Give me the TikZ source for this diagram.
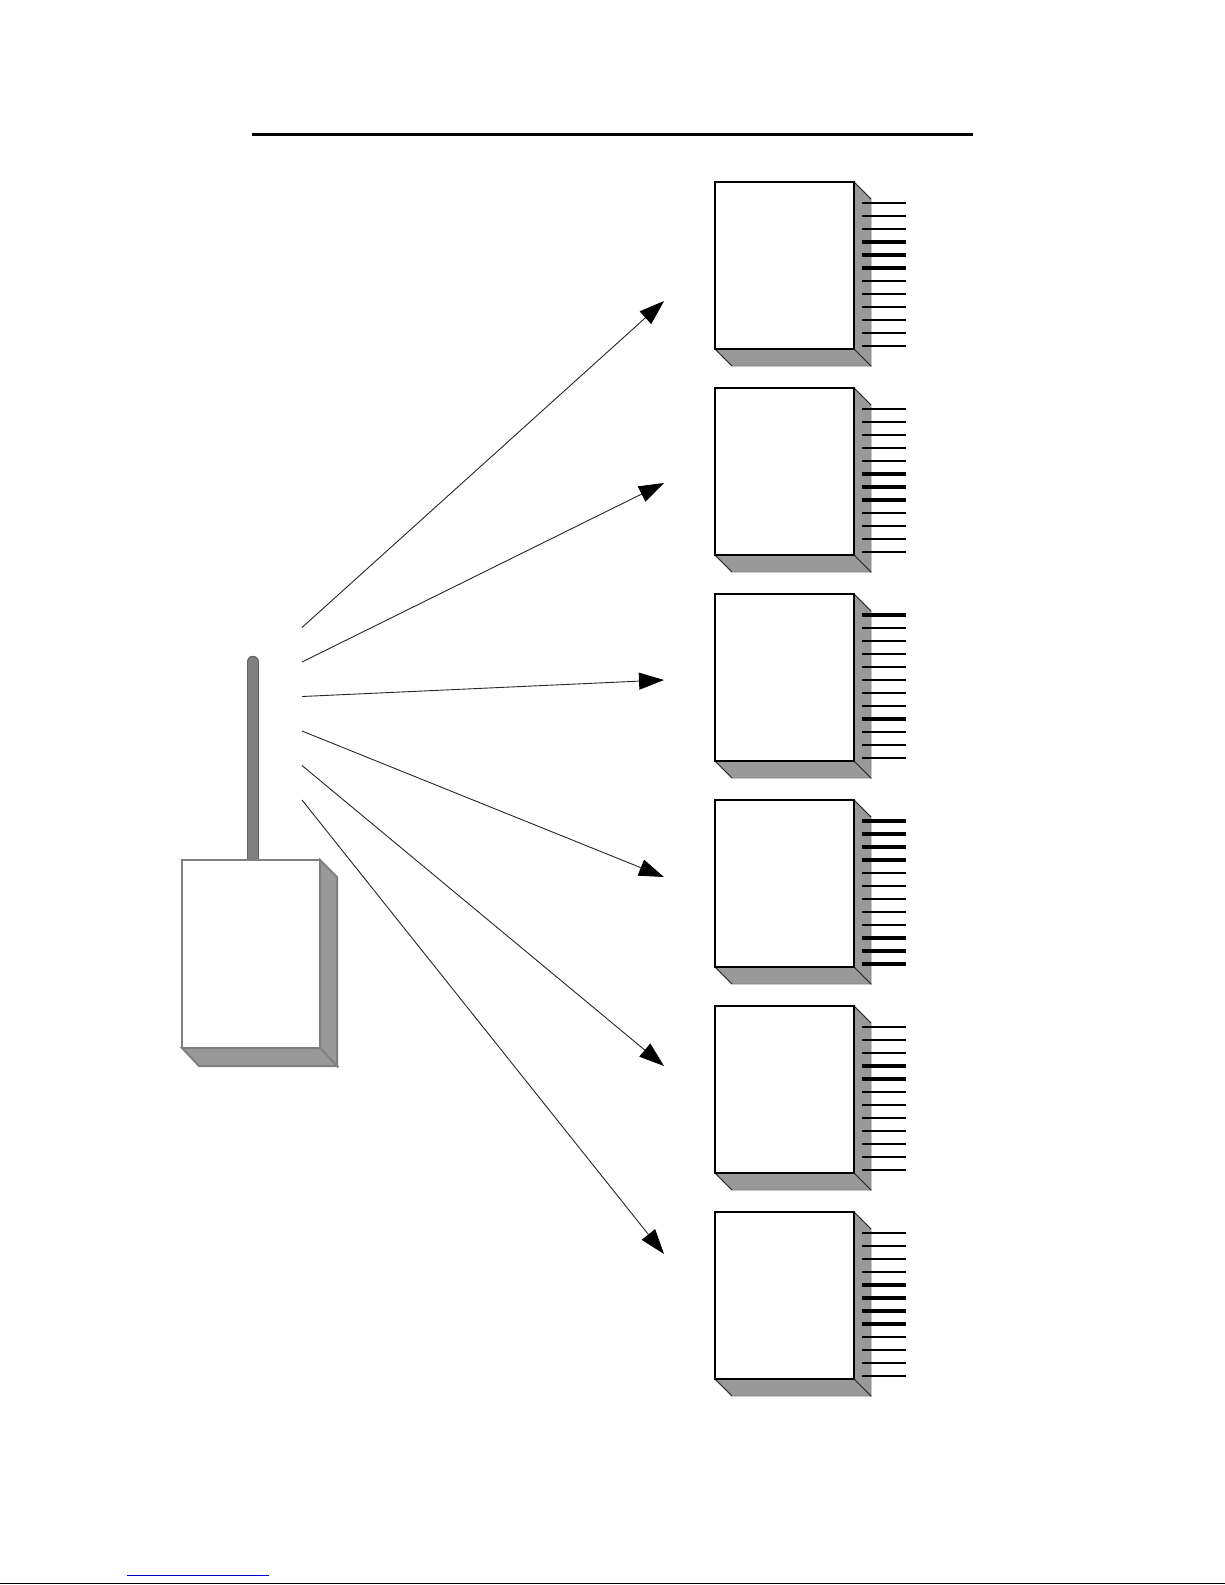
\documentclass[tikz,border=0pt]{standalone}
\usetikzlibrary{arrows.meta}
\definecolor{sidegray}{RGB}{153,153,153}
\definecolor{antgray}{RGB}{128,128,128}
\definecolor{linkblue}{RGB}{0,0,204}
\tikzset{
  frontface/.style={draw=black,line width=0.7pt,fill=white},
  sideface/.style={fill=sidegray,draw=sidegray!85!black,line width=0.4pt},
  bevel/.style={draw=black!85,line width=0.5pt},
  pinthin/.style={draw=black,line width=1.05pt},
  pinthick/.style={draw=black,line width=1.6pt},
  ray/.style={draw=black!85,line width=0.45pt,-{Triangle[length=12.5pt,width=8.5pt,color=black,fill=black]}},
  txface/.style={draw=antgray,line width=1pt,fill=white},
  txside/.style={fill=sidegray,draw=antgray,line width=1pt},
}
\newcommand{\chipbox}[2]{%
  \begin{scope}[shift={(0,#1)}]
    \path[sideface] (854,0) -- (871,17) -- (871,184) -- (854,167) -- cycle;
    \path[sideface] (715,167) -- (854,167) -- (871,184) -- (732,184) -- cycle;
    \draw[bevel] (854,0) -- (871,17);
    \draw[bevel] (715,167) -- (732,184);
    \draw[bevel] (854,167) -- (871,184);
    \path[frontface] (715,0) rectangle (854,167);
    \foreach \i in {1,...,12} {\draw[pinthin] (862,{21+13*(\i-1)}) -- (906,{21+13*(\i-1)});}
    \foreach \i in {#2} {\draw[pinthick] (862,{21+13*(\i-1)}) -- (906,{21+13*(\i-1)});}
  \end{scope}}
\begin{document}
\begin{tikzpicture}[x=0.5pt,y=-0.5pt]
\useasboundingbox (0,0) rectangle (1225,1585);
% top rule
\draw[line width=1.5pt] (252,134.5) -- (973,134.5);
% receiver boxes
\chipbox{182}{4,5,6}
\chipbox{388}{6,7,8}
\chipbox{594}{1,9}
\chipbox{800}{1,2,3,4,10,11,12}
\chipbox{1006}{4,5}
\chipbox{1212}{5,6,7,8}
% transmitter antenna
\draw[line width=6.2pt,line cap=round,draw=antgray!75!black] (252.7,861) -- (252.7,662);
\draw[line width=5pt,line cap=round,draw=antgray] (252.7,861) -- (252.7,662);
% transmitter box
\path[txside] (320,860) -- (337,877) -- (337,1066) -- (320,1048) -- cycle;
\path[txside] (182,1048) -- (320,1048) -- (337,1066) -- (199,1066) -- cycle;
\path[txface] (182,860) rectangle (320,1048);
% ray endpoints
\coordinate (s1) at (302,627.5);
\coordinate (s2) at (302,662);
\coordinate (s3) at (302,696.5);
\coordinate (s4) at (302,731);
\coordinate (s5) at (302,765.5);
\coordinate (s6) at (302,800);
\coordinate (t1) at (664,301);
\coordinate (t2) at (664,483);
\coordinate (t3) at (664,680);
\coordinate (t4) at (664,877);
\coordinate (t5) at (664,1066);
\coordinate (t6) at (664,1254);
\foreach \k in {1,...,6} {\draw[ray] (s\k) -- (t\k);}
% footer
\draw[linkblue,line width=0.5pt] (127,1575) -- (268.5,1575);
\draw[black,line width=0.75pt] (0,1583.5) -- (1225,1583.5);
\end{tikzpicture}
\end{document}
